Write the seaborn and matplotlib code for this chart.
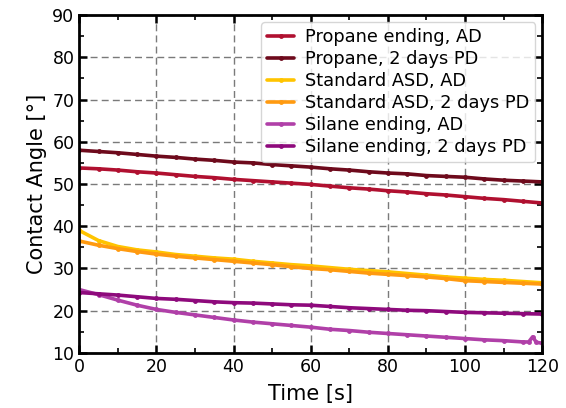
import numpy as np
import pandas as pd
import matplotlib
matplotlib.use("Agg")
import matplotlib.pyplot as plt
from matplotlib.ticker import MultipleLocator
import seaborn as sns

sns.set_style("ticks")
plt.rcParams["text.color"] = "black"
plt.rcParams["axes.labelcolor"] = "black"
plt.rcParams["xtick.color"] = "black"
plt.rcParams["ytick.color"] = "black"
plt.rcParams["axes.edgecolor"] = "black"

# time axis [s]
t = [0, 5, 10, 15, 20, 25, 30, 35, 40, 45, 50, 55, 60,
     65, 70, 75, 80, 85, 90, 95, 100, 105, 110, 115, 120]

propane_ad = [53.8, 53.6, 53.3, 52.9, 52.6, 52.2, 51.8, 51.5, 51.1, 50.8, 50.5, 50.2, 49.9,
              49.5, 49.1, 48.8, 48.4, 48.1, 47.7, 47.4, 47.0, 46.6, 46.3, 45.9, 45.5]
propane_pd = [58.0, 57.7, 57.4, 57.0, 56.6, 56.3, 55.9, 55.6, 55.2, 55.0, 54.6, 54.3, 54.0,
              53.6, 53.3, 52.9, 52.6, 52.4, 52.0, 51.8, 51.6, 51.2, 50.9, 50.7, 50.5]
standard_ad = [39.0, 36.6, 35.2, 34.4, 33.9, 33.3, 32.9, 32.5, 32.2, 31.7, 31.3, 30.9, 30.6,
               30.2, 29.8, 29.5, 29.2, 28.8, 28.4, 28.0, 27.7, 27.4, 27.2, 26.9, 26.6]
standard_pd = [36.5, 35.5, 34.7, 34.0, 33.4, 32.9, 32.5, 32.1, 31.7, 31.3, 30.9, 30.4, 30.0,
               29.7, 29.3, 28.9, 28.6, 28.3, 28.0, 27.6, 27.1, 26.9, 26.7, 26.5, 26.3]
silane_pd = [24.3, 24.0, 23.7, 23.3, 22.9, 22.7, 22.4, 22.1, 21.9, 21.8, 21.6, 21.4, 21.3,
             21.0, 20.7, 20.5, 20.3, 20.1, 20.0, 19.8, 19.6, 19.5, 19.4, 19.3, 19.2]

# silane AD has a small bump near the end, so it gets its own time points
t_silane_ad = [0, 5, 10, 15, 20, 25, 30, 35, 40, 45, 50, 55, 60,
               65, 70, 75, 80, 85, 90, 95, 100, 105, 110, 115, 116.5, 117.5, 118.5, 120]
silane_ad = [25.0, 23.8, 22.5, 21.3, 20.3, 19.6, 19.0, 18.4, 17.8, 17.3, 16.9, 16.5, 16.1,
             15.6, 15.3, 14.9, 14.6, 14.3, 14.0, 13.7, 13.4, 13.1, 12.9, 12.6, 12.6, 13.8, 12.5, 12.3]

series = [
    ("Propane ending, AD", t, propane_ad, "#b01030"),
    ("Propane, 2 days PD", t, propane_pd, "#6e0a1c"),
    ("Standard ASD, AD", t, standard_ad, "#ffc400"),
    ("Standard ASD, 2 days PD", t, standard_pd, "#ff9a10"),
    ("Silane ending, AD", t_silane_ad, silane_ad, "#b040a8"),
    ("Silane ending, 2 days PD", t, silane_pd, "#8e0a7c"),
]

fig, ax = plt.subplots(figsize=(5.66, 4.08), dpi=100)
fig.subplots_adjust(left=0.14, right=0.958, bottom=0.135, top=0.963)

for name, x, y, col in series:
    sns.lineplot(x=x, y=y, ax=ax, label=name, color=col, marker=".",
                 markersize=7, markeredgewidth=0, linewidth=2.6)

ax.set_xlim(0, 120)
ax.set_ylim(10, 90)
ax.xaxis.set_major_locator(MultipleLocator(20))
ax.xaxis.set_minor_locator(MultipleLocator(10))
ax.yaxis.set_major_locator(MultipleLocator(10))
ax.yaxis.set_minor_locator(MultipleLocator(5))
ax.tick_params(which="both", direction="in", top=True, right=True, labelsize=12.5)
ax.tick_params(which="major", length=6, width=1.8)
ax.tick_params(which="minor", length=3.5, width=1.2)
for s in ax.spines.values():
    s.set_linewidth(2)
ax.grid(True, which="major", linestyle=(0, (5, 3)), color="#7a7a7a", linewidth=1)

ax.set_xlabel("Time [s]", fontsize=15, labelpad=6)
ax.set_ylabel("Contact Angle [°]", fontsize=15)
ax.legend(loc="upper right", fontsize=12.8, borderaxespad=0.4, handlelength=1.5,
          handletextpad=0.6, labelspacing=0.22, borderpad=0.35, framealpha=0.8)

plt.savefig("out.png", dpi=100)
